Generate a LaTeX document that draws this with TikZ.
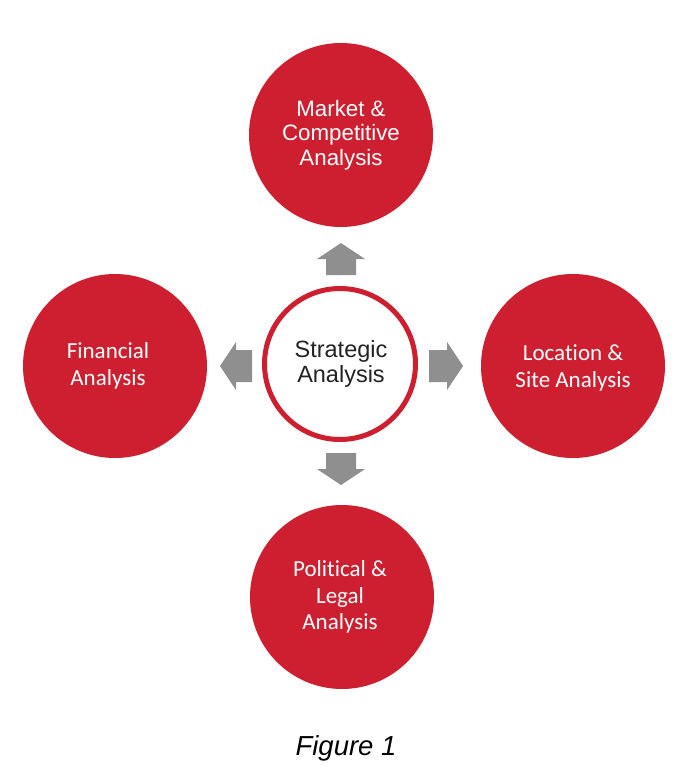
\documentclass[tikz,border=0pt]{standalone}
\usepackage{fontspec}
\setmainfont{Liberation Sans}
\newfontfamily\calib[Ligatures=NoCommon]{Carlito}
\definecolor{redc}{RGB}{205,31,48}
\definecolor{grayarrow}{RGB}{143,143,143}
\definecolor{darktext}{RGB}{35,35,35}
\begin{document}
\begin{tikzpicture}[x=1pt,y=-1pt,
  bigcircle/.style={circle,fill=redc,draw=none,minimum size=184pt,inner sep=0pt},
  ringcircle/.style={circle,draw=redc,line width=5pt,fill=white,minimum size=151pt,inner sep=0pt},
  arialtext/.style={text=white,align=center,font=\fontsize{22.3}{24.5}\selectfont},
  calibtext/.style={text=white,align=center,font=\calib\fontsize{23}{26.5}\selectfont},
  blockarrow/.style={fill=grayarrow,draw=none}]
\useasboundingbox (0,0) rectangle (685,779);
\node[bigcircle] (top) at (341,135) {};
\node[arialtext] (toptext) at (341,135) {Market \&\\Competitive\\Analysis};
\node[bigcircle] (left) at (115,366) {};
\node[calibtext] (lefttext) at (108,366) {Financial\\Analysis};
\node[bigcircle] (right) at (573,366) {};
\node[calibtext] (righttext) at (573,368) {Location \&\\Site Analysis};
\node[bigcircle] (bottom) at (342,597) {};
\node[calibtext] (bottomtext) at (340,597) {Political \&\\Legal\\Analysis};
\node[ringcircle] (center) at (340,364) {};
\node[text=darktext,align=center,font=\fontsize{23.5}{24.5}\selectfont] (centertext) at (341,364) {Strategic\\Analysis};
% block arrows
\fill[blockarrow] (341,243) -- (365,259) -- (356,259) -- (356,275) -- (326,275) -- (326,259) -- (317,259) -- cycle;
\fill[blockarrow] (341,485) -- (365,469) -- (356,469) -- (356,453) -- (326,453) -- (326,469) -- (317,469) -- cycle;
\fill[blockarrow] (220,366) -- (236,342) -- (236,350) -- (252,350) -- (252,382) -- (236,382) -- (236,390) -- cycle;
\fill[blockarrow] (463,366) -- (447,342) -- (447,350) -- (429,350) -- (429,382) -- (447,382) -- (447,390) -- cycle;
\node[font=\itshape\fontsize{27.5}{30}\selectfont,text=black,anchor=base] (caption) at (346,755) {Figure 1};
\end{tikzpicture}
\end{document}
